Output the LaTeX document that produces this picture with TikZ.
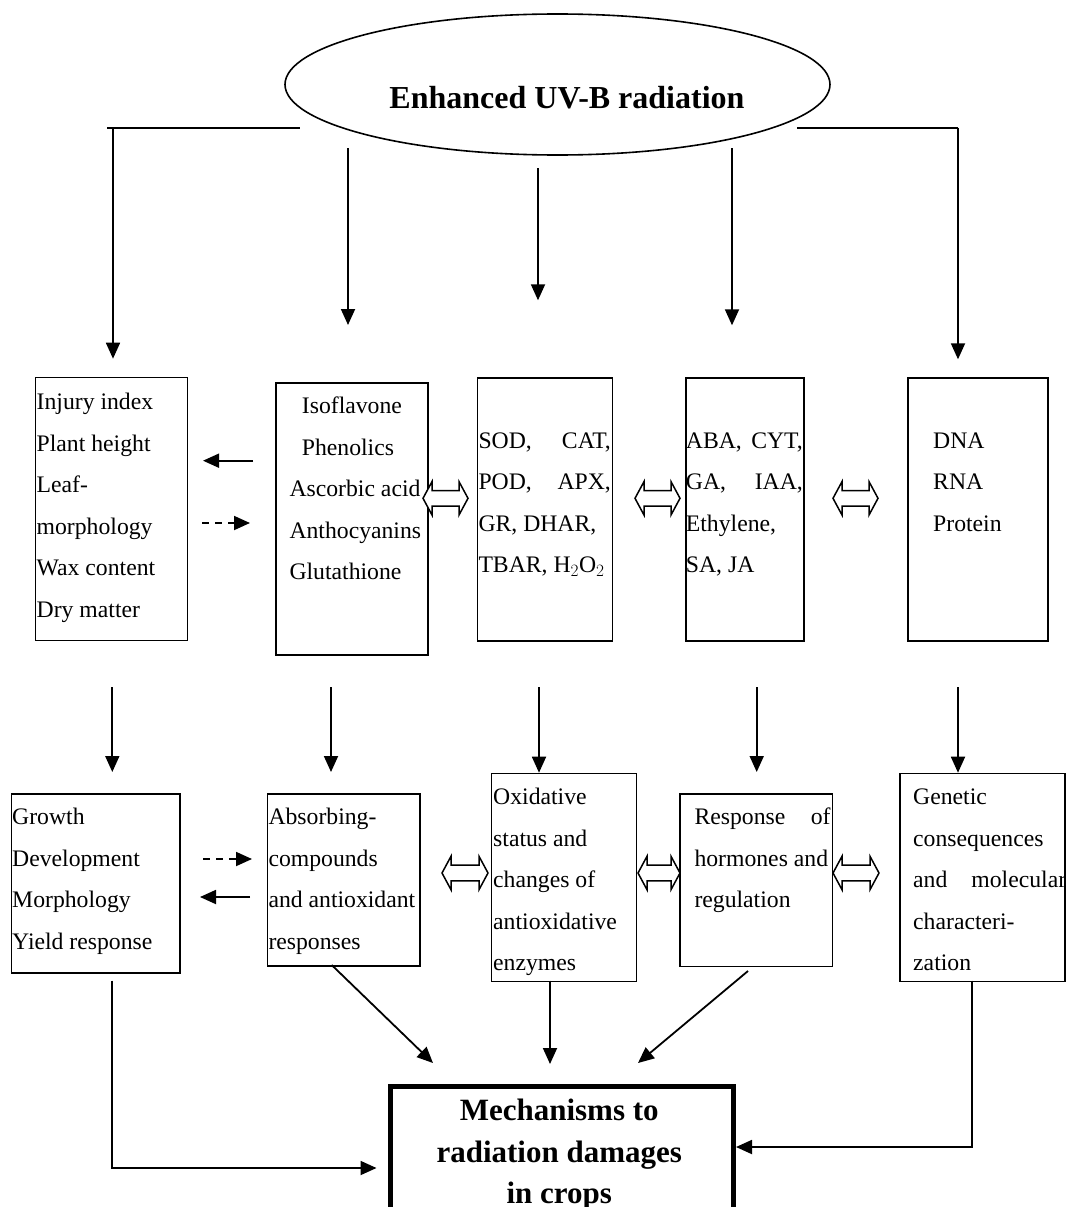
\documentclass[tikz,border=0pt]{standalone}
\usepackage{fontspec}
\setmainfont{Liberation Serif}
\usetikzlibrary{arrows.meta,shapes.geometric,calc}
\newcommand\ftext{\fontsize{23.7}{41.5}\selectfont}
\newcommand\dblarr[3]{%
  \draw[dbl] (#1,#3) -- (#1+9,#3-16.7) -- (#1+9,#3-7.8) -- (#2-9,#3-7.8) -- (#2-9,#3-16.7) -- (#2,#3)
    -- (#2-9,#3+16.7) -- (#2-9,#3+7.8) -- (#1+9,#3+7.8) -- (#1+9,#3+16.7) -- cycle;}
\begin{document}
\begin{tikzpicture}[x=1pt,y=-1pt,
  box/.style={draw,line width=1.6pt,inner sep=0pt,anchor=north west},
  txt/.style={inner sep=0pt,anchor=base west},
  arr/.style={line width=1.8pt,-{Triangle[length=16pt,width=14pt]}},
  dsh/.style={arr,dash pattern=on 7pt off 6pt},
  ln/.style={line width=1.8pt},
  dbl/.style={line width=1.5pt,fill=white},
]
\useasboundingbox[fill=white] (0,0) rectangle (1067,1207);

% ellipse
\node[draw,ellipse,line width=1.6pt,minimum width=545pt,minimum height=141pt,inner sep=0pt] (uv) at (557.5,84.5) {};
\node[inner sep=0pt,font=\fontsize{32}{36}\selectfont\bfseries] (uvt) at (567,98) {Enhanced UV-B radiation};

% row 1 boxes
\node[box,minimum width=152pt,minimum height=263pt] (b1) at (34.7,376.7) {};
\node[box,minimum width=152pt,minimum height=272pt] (b2) at (275,382) {};
\node[box,minimum width=135pt,minimum height=263pt] (b3) at (476.7,377.3) {};
\node[box,minimum width=118.3pt,minimum height=263pt] (b4) at (685,377.3) {};
\node[box,minimum width=140pt,minimum height=263pt] (b5) at (907,377.3) {};

\node[txt] (t1) at (36.5,409.7) {\parbox[t]{150pt}{\ftext Injury index\\Plant height\\Leaf-\\morphology\\Wax content\\Dry matter}};
\node[txt] (t2) at (289.3,413.7) {\parbox[t]{150pt}{\ftext \hspace*{12.4pt}Isoflavone\\\hspace*{12.4pt}Phenolics\\Ascorbic acid\\Anthocyanins\\Glutathione}};
\node[txt] (t3) at (478.3,448) {\parbox[t]{150pt}{\ftext \makebox[132.4pt][s]{SOD, CAT,}\\\makebox[132.4pt][s]{POD, APX,}\\GR, DHAR,\\TBAR, H$_2$O$_2$}};
\node[txt] (t4) at (685.7,448) {\parbox[t]{150pt}{\ftext \makebox[117pt][s]{ABA, CYT,}\\\makebox[117pt][s]{GA, IAA,}\\Ethylene,\\SA, JA}};
\node[txt] (t5) at (933,448) {\parbox[t]{100pt}{\ftext DNA\\RNA\\Protein}};

% row 2 boxes
\node[box,minimum width=168.3pt,minimum height=179pt] (b6) at (10.7,793) {};
\node[box,minimum width=152.3pt,minimum height=172pt] (b7) at (266.7,793) {};
\node[box,minimum width=145pt,minimum height=208pt] (b8) at (490.7,772.7) {};
\node[box,minimum width=152.7pt,minimum height=172.7pt] (b9) at (679,793) {};
\node[box,minimum width=165pt,minimum height=208pt] (b10) at (899,772.7) {};

\node[txt] (t6) at (12,824.7) {\parbox[t]{165pt}{\ftext Growth\\Development\\Morphology\\Yield response}};
\node[txt] (t7) at (268.3,824.7) {\parbox[t]{160pt}{\ftext Absorbing-\\compounds\\and antioxidant\\responses}};
\node[txt] (t8) at (493,804.7) {\parbox[t]{150pt}{\ftext Oxidative\\status and\\changes of\\antioxidative\\enzymes}};
\node[txt] (t9) at (694.3,824.7) {\parbox[t]{150pt}{\ftext \makebox[136pt][s]{Response of}\\hormones and\\regulation}};
\node[txt] (t10) at (913,804.7) {\parbox[t]{160pt}{\ftext Genetic\\consequences\\\makebox[153pt][s]{and molecular}\\characteri-\\zation}};

% bottom box
\node[draw,line width=5pt,inner sep=0pt,anchor=north west,minimum width=343.5pt,minimum height=156pt] (m) at (387.5,1084) {};
\node[inner sep=0pt,anchor=base] (mt) at (559.25,1120.7) {\parbox[t]{340pt}{\centering\fontsize{31}{41.5}\selectfont\bfseries Mechanisms to\\radiation damages\\in crops}};

% top connectors
\coordinate (tl) at (107,127.7);
\coordinate (tlr) at (300,127.7);
\coordinate (tr) at (797,127.7);
\coordinate (trr) at (958,127.7);
\draw[ln] (tl) -- (tlr);
\draw[ln] (tr) -- (trr);
\coordinate (a1) at (113,127.7);
\coordinate (a2) at (348,148);
\coordinate (a3) at (538,168);
\coordinate (a4) at (732,148);
\coordinate (a5) at (958,127.7);
\draw[arr,shorten >=18pt] (a1) -- (b1.north -| a1);
\draw[arr,shorten >=57pt] (a2) -- (b2.north -| a2);
\draw[arr,shorten >=77pt] (a3) -- (b3.north -| a3);
\draw[arr,shorten >=52pt] (a4) -- (b4.north -| a4);
\draw[arr,shorten >=18pt] (a5) -- (b5.north -| a5);

% row 1 side arrows
\coordinate (p1) at (253,460.7);
\coordinate (p2) at (203,460.7);
\draw[arr] (p1) -- (p2);
\coordinate (q1) at (202,523);
\coordinate (q2) at (250,523);
\draw[dsh] (q1) -- (q2);
\dblarr{423}{468}{498.3}
\dblarr{635}{680}{498.3}
\dblarr{833}{878}{498.3}

% row 1 -> row 2
\coordinate (c6) at (112.3,687);
\coordinate (c7) at (331,687);
\coordinate (c8) at (539,687);
\coordinate (c9) at (756.7,687);
\coordinate (c10) at (958,687);
\draw[arr,shorten >=21pt] (c6) -- (b6.north -| c6);
\draw[arr,shorten >=21pt] (c7) -- (b7.north -| c7);
\draw[arr] (c8) -- (b8.north -| c8);
\draw[arr,shorten >=21pt] (c9) -- (b9.north -| c9);
\draw[arr] (c10) -- (b10.north -| c10);

% row 2 side arrows
\coordinate (r1a) at (203,859);
\coordinate (r1b) at (252,859);
\draw[dsh] (r1a) -- (r1b);
\coordinate (r2a) at (250,897);
\coordinate (r2b) at (200,897);
\draw[arr] (r2a) -- (r2b);
\dblarr{442}{488}{873}
\dblarr{638}{680}{873}
\dblarr{833}{879}{873}

% bottom connectors
\coordinate (l1) at (112.3,980.7);
\coordinate (l2) at (112.3,1168);
\draw[arr,shorten >=11pt] (l1) |- (m.west |- l2);
\coordinate (rr1) at (971.7,980.7);
\coordinate (rr2) at (971.7,1147);
\draw[arr] (rr1) |- (m.east |- rr2);
\coordinate (d1) at (331.7,965);
\coordinate (d1e) at (433,1063);
\draw[arr] (d1) -- (d1e);
\coordinate (v8) at (550,980.7);
\draw[arr,shorten >=20pt] (v8) -- (m.north -| v8);
\coordinate (d2) at (748,971);
\coordinate (d2e) at (638,1063);
\draw[arr] (d2) -- (d2e);
\end{tikzpicture}
\end{document}
